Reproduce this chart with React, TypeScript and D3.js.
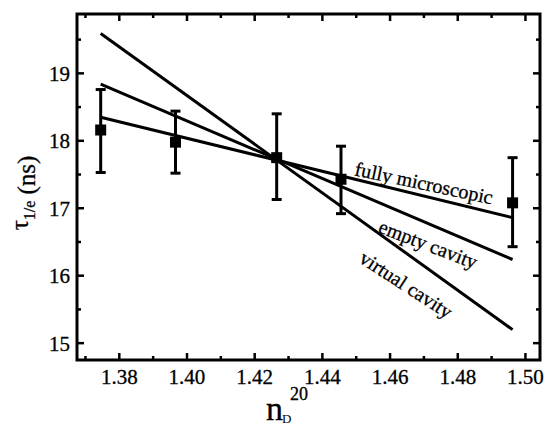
import React from "react";
import * as d3 from "d3";

// ---- data ----
const nD = [1.3745, 1.3966, 1.4265, 1.4455, 1.4962];
const tau = [18.16, 17.98, 17.75, 17.43, 17.08];
const errLow = [17.53, 17.52, 17.13, 16.92, 16.43];
const errHigh = [18.76, 18.44, 18.4, 17.92, 17.75];

const modelX = [1.3745, 1.4962];
const virtualCavity = [19.59, 15.2];
const emptyCavity = [18.84, 16.24];
const fullyMicroscopic = [18.35, 16.86];

const xMajor = [1.38, 1.4, 1.42, 1.44, 1.46, 1.48, 1.5];
const xMinor = [1.37, 1.39, 1.41, 1.43, 1.45, 1.47, 1.49];
const yMajor = [15, 16, 17, 18, 19];
const yMinor = [15.5, 16.5, 17.5, 18.5, 19.5];

const labels = [
  { text: "fully microscopic", n: 1.4493, t: 17.49, angle: 12 },
  { text: "empty cavity", n: 1.4562, t: 16.648, angle: 21 },
  { text: "virtual cavity", n: 1.4505, t: 16.21, angle: 33 },
];

// ---- layout ----
const W = 545;
const H = 428;
const L = 77, R = 540, T = 14, B = 360;
const FONT = "'Liberation Serif', 'Times New Roman', serif";

export default function App() {
  const x = d3.scaleLinear().domain([1.3675, 1.5043]).range([L, R]);
  const y = d3.scaleLinear().domain([14.75, 19.88]).range([B, T]);
  const line = d3
    .line<[number, number]>()
    .x((d) => x(d[0]))
    .y((d) => y(d[1]));
  const series = [virtualCavity, emptyCavity, fullyMicroscopic];
  const sw = 3;
  const major = 7, minor = 4;

  return (
    <svg
      width={W}
      height={H}
      style={{ position: "absolute", left: 0, top: 0, background: "#fff" }}
      fontFamily={FONT}
    >
      <rect x={0} y={0} width={W} height={H} fill="#fff" />
      {/* model lines */}
      {series.map((s, i) => (
        <path
          key={i}
          d={line(modelX.map((v, j) => [v, s[j]] as [number, number])) || ""}
          fill="none"
          stroke="#000"
          strokeWidth={sw}
        />
      ))}
      {/* error bars + points */}
      {nD.map((n, i) => (
        <g key={i}>
          <line x1={x(n)} x2={x(n)} y1={y(errLow[i])} y2={y(errHigh[i])} stroke="#000" strokeWidth={sw} />
          <line x1={x(n) - 5} x2={x(n) + 5} y1={y(errLow[i])} y2={y(errLow[i])} stroke="#000" strokeWidth={sw} />
          <line x1={x(n) - 5} x2={x(n) + 5} y1={y(errHigh[i])} y2={y(errHigh[i])} stroke="#000" strokeWidth={sw} />
          <rect x={x(n) - 5.5} y={y(tau[i]) - 5.5} width={11} height={11} fill="#000" />
        </g>
      ))}
      {/* labels */}
      {labels.map((lb, i) => (
        <text
          key={i}
          transform={`translate(${x(lb.n)},${y(lb.t)}) rotate(${lb.angle})`}
          fontSize={20}
          fill="#000"
          stroke="#000"
          strokeWidth={0.3}
        >
          {lb.text}
        </text>
      ))}
      {/* frame */}
      <rect x={L} y={T} width={R - L} height={B - T} fill="none" stroke="#000" strokeWidth={sw} />
      {/* x ticks */}
      {xMajor.map((v) => (
        <g key={"xM" + v}>
          <line x1={x(v)} x2={x(v)} y1={B} y2={B - major} stroke="#000" strokeWidth={2.5} />
          <line x1={x(v)} x2={x(v)} y1={T} y2={T + major} stroke="#000" strokeWidth={2.5} />
          <text x={x(v)} y={384} textAnchor="middle" fontSize={21} fill="#000" stroke="#000" strokeWidth={0.3}>
            {v.toFixed(2)}
          </text>
        </g>
      ))}
      {xMinor.map((v) => (
        <g key={"xm" + v}>
          <line x1={x(v)} x2={x(v)} y1={B} y2={B - minor} stroke="#000" strokeWidth={2.5} />
          <line x1={x(v)} x2={x(v)} y1={T} y2={T + minor} stroke="#000" strokeWidth={2.5} />
        </g>
      ))}
      {/* y ticks */}
      {yMajor.map((v) => (
        <g key={"yM" + v}>
          <line x1={L} x2={L + major} y1={y(v)} y2={y(v)} stroke="#000" strokeWidth={2.5} />
          <line x1={R} x2={R - major} y1={y(v)} y2={y(v)} stroke="#000" strokeWidth={2.5} />
          <text x={70} y={y(v) + 7.5} textAnchor="end" fontSize={21} fill="#000" stroke="#000" strokeWidth={0.3}>
            {v}
          </text>
        </g>
      ))}
      {yMinor.map((v) => (
        <g key={"ym" + v}>
          <line x1={L} x2={L + minor} y1={y(v)} y2={y(v)} stroke="#000" strokeWidth={2.5} />
          <line x1={R} x2={R - minor} y1={y(v)} y2={y(v)} stroke="#000" strokeWidth={2.5} />
        </g>
      ))}
      {/* y label */}
      <text transform="translate(35,193) rotate(-90)" textAnchor="middle" fontSize={25} fill="#000" stroke="#000" strokeWidth={0.3}>
        <tspan dy={-7}>τ</tspan>
        <tspan dy={7} fontSize={16}>1/e</tspan>
        <tspan fontSize={25}> (ns)</tspan>
      </text>
      {/* x label */}
      <text x={266} y={420} fontSize={34} fill="#000" stroke="#000" strokeWidth={0.3}>n</text>
      <text x={282} y={423} fontSize={13} fill="#000">D</text>
      <text x={290} y={400} fontSize={18} fill="#000" stroke="#000" strokeWidth={0.3}>20</text>
    </svg>
  );
}
